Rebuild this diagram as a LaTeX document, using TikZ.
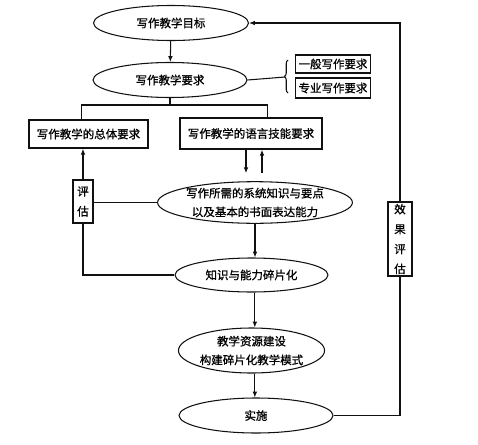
\documentclass[tikz,border=0pt]{standalone}
\usepackage{fontspec}
\usepackage{tikz}
\usepackage{xcolor}
\usetikzlibrary{arrows.meta,positioning,shapes,calc}
\usetikzlibrary{decorations.pathreplacing,shapes.geometric}
\newfontfamily\cjk[FakeBold=1]{Noto Sans CJK SC}
\definecolor{ink}{HTML}{111111}
\tikzset{
  flowoval/.style={
    draw=ink, ellipse, line width=0.9pt, inner sep=0pt,
    align=center, font=\cjk\fontsize{9.8}{16}\selectfont
  },
  reqcard/.style={
    draw=ink, line width=1.2pt, inner sep=0pt,
    align=center, font=\cjk\fontsize{9.8}{16}\selectfont
  },
  tallcard/.style={
    draw=ink, line width=1.2pt, inner sep=0pt,
    align=center, font=\cjk\fontsize{9.8}{17}\selectfont
  },
  flowarrow/.style={draw=ink, line width=0.9pt, -{Latex[length=5pt,width=4pt]}},
  flowline/.style={draw=ink, line width=0.9pt},
  brace/.style={decorate, decoration={brace, amplitude=3pt}, line width=0.9pt, color=ink}
}

\begin{document}
\begin{tikzpicture}[x=0.03cm,y=-0.03cm]
  \useasboundingbox (0,0) rectangle (478,444);

  % main column
  \node[flowoval,minimum width=4.65cm,minimum height=1.05cm] (goal) at (171,23) {写作教学目标};
  \node[flowoval,minimum width=4.62cm,minimum height=1.05cm] (req) at (170,80) {写作教学要求};
  \node[reqcard,minimum width=2.25cm,minimum height=0.54cm] (general) at (333,64) {一般写作要求};
  \node[reqcard,minimum width=2.25cm,minimum height=0.6cm] (major) at (333,88) {专业写作要求};
  \node[reqcard,minimum width=3.57cm,minimum height=0.84cm] (overall) at (88.5,134) {写作教学的总体要求};
  \node[reqcard,minimum width=4.26cm,minimum height=0.93cm] (skill) at (251,133.5) {写作教学的语言技能要求};
  \node[tallcard,minimum width=0.6cm,minimum height=1.29cm] (assess) at (83,201.5) {评\\估};
  \node[flowoval,minimum width=5.52cm,minimum height=1.23cm] (know) at (255,202.5)
    {写作所需的系统知识与要点\\以及基本的书面表达能力};
  \node[flowoval,minimum width=4.59cm,minimum height=1.02cm] (frag) at (251.5,275) {知识与能力碎片化};
  \node[flowoval,minimum width=4.23cm,minimum height=1.35cm] (res) at (251.5,350.5)
    {教学资源建设\\构建碎片化教学模式};
  \node[flowoval,minimum width=4.62cm,minimum height=1.05cm] (impl) at (256,415.5) {实施};
  \node[tallcard,minimum width=0.72cm,minimum height=2.22cm] (effect) at (400,239) {效\\果\\评\\估};

  \coordinate (bracetip) at (285,77);
  \coordinate (bracetop) at (288,60);
  \coordinate (bracebot) at (288,93);
  \coordinate (split) at (170,105);

  \draw[flowarrow] (goal) -- (req);
  \draw[flowline] (req.east) -- (bracetip);
  \draw[brace] (bracebot) -- (bracetop);
  \draw[flowline] (req.south) -- (split);
  \draw[flowline] ([xshift=-0.2cm]overall.north) |- (split) -| ([xshift=0.5cm]skill.north);

  \draw[flowarrow,shorten >=0.24cm] ([xshift=-0.15cm]skill.south) -- ([xshift=-0.15cm]skill.south |- know.north);
  \draw[flowarrow,shorten <=0.24cm] ([xshift=0.33cm]skill.south |- know.north) -- ([xshift=0.33cm]skill.south);

  \draw[flowarrow] (assess.north) -- (assess.north |- overall.south);
  \draw[flowline] (know.west) -- (know.west -| assess.east);
  \draw[flowline] (assess.south) |- (frag.west);

  \draw[flowarrow] (know.south) -- (know.south |- frag.north);
  \draw[flowarrow] ([xshift=0.1cm]frag.south) -- ([xshift=0.1cm]frag.south |- res.north);
  \draw[flowarrow] ([xshift=0.1cm]res.south) -- ([xshift=0.1cm]res.south |- impl.north);

  % feedback loop
  \draw[flowline] (impl.east) -| (effect.south);
  \draw[flowarrow] (effect.north) |- (goal.east);
\end{tikzpicture}
\end{document}
